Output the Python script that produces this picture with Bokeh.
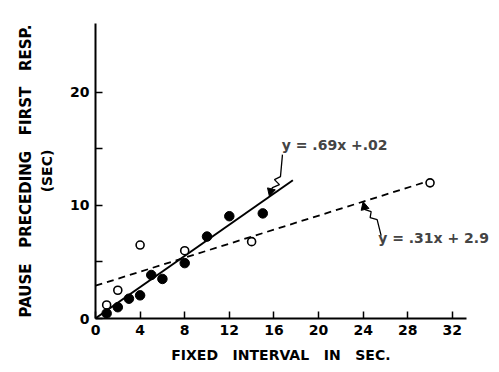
import numpy as np
from bokeh.plotting import figure
from bokeh.models import FixedTicker, Label, Title, Arrow, NormalHead
from bokeh.embed import file_html
from bokeh.resources import INLINE

# data
filled_x = [1, 2, 3, 4, 5, 6, 8, 10, 12, 15]
filled_y = [0.45, 1.0, 1.75, 2.05, 3.85, 3.5, 4.9, 7.25, 9.05, 9.3]
open_x = [1, 2, 4, 8, 14, 30]
open_y = [1.2, 2.5, 6.5, 6.0, 6.8, 12.0]
fit1_slope, fit1_icpt, fit1_xmax = 0.69, 0.02, 17.7
fit2_slope, fit2_icpt, fit2_xmax = 0.31, 2.9, 29.4
x_ticks = [0, 4, 8, 12, 16, 20, 24, 28, 32]
y_ticks = [0, 5, 10, 15, 20]
y_tick_labels = {0: "0", 5: "", 10: "10", 15: "", 20: "20"}

NB = "\u00a0"
def spaced(s, n=3):
    return (NB * n).join(s.split(" "))

FONT = "DejaVu Sans"
W, H = 498, 366
p = figure(width=W, height=H, output_backend="svg", toolbar_location=None,
           x_range=(0, 35.87), y_range=(0, 26.1),
           min_border_left=95, min_border_right=3, min_border_top=23, min_border_bottom=48)
p.outline_line_color = None
p.grid.grid_line_color = None
p.background_fill_color = "white"

for ax in (p.xaxis[0], p.yaxis[0]):
    ax.axis_line_width = 2
    ax.axis_line_color = "black"
    ax.major_tick_in = 7
    ax.major_tick_out = 0
    ax.major_tick_line_width = 1.5
    ax.minor_tick_line_color = None
    ax.major_label_text_font = FONT
    ax.major_label_text_font_style = "bold"
    ax.major_label_text_font_size = "14px"
    ax.major_label_text_color = "black"

p.xaxis.bounds = (0, 33.3)
p.xaxis.ticker = FixedTicker(ticks=x_ticks)
p.yaxis.ticker = FixedTicker(ticks=y_ticks)
p.yaxis.major_label_overrides = y_tick_labels
p.xaxis.major_label_standoff = 6
p.yaxis.major_label_standoff = 6

p.xaxis.axis_label = spaced("FIXED INTERVAL IN SEC.", 3) + NB * 6
p.xaxis.axis_label_text_font = FONT
p.xaxis.axis_label_text_font_style = "bold"
p.xaxis.axis_label_text_font_size = "14px"
p.xaxis.axis_label_text_color = "black"
p.xaxis.axis_label_standoff = 9

p.yaxis.axis_label = "(SEC)"
p.yaxis.axis_label_text_font = FONT
p.yaxis.axis_label_text_font_style = "bold"
p.yaxis.axis_label_text_font_size = "14px"
p.yaxis.axis_label_text_color = "black"
p.yaxis.axis_label_standoff = 12

t = Title(text=spaced("PAUSE PRECEDING FIRST RESP.", 3), align="center",
          text_font=FONT, text_font_style="bold", text_font_size="15px",
          text_color="black", standoff=4)
p.add_layout(t, "left")

# fit lines
x1 = np.array([0, fit1_xmax])
p.line(x1, fit1_slope * x1 + fit1_icpt, line_color="black", line_width=2)
x2 = np.array([0, fit2_xmax])
p.line(x2, fit2_slope * x2 + fit2_icpt, line_color="black", line_width=1.8, line_dash="7 5")

# points
p.scatter(open_x, open_y, size=8, fill_color="white", line_color="black", line_width=1.6)
p.scatter(filled_x, filled_y, size=9.5, fill_color="black", line_color="black")

# annotations: wavy arrows (pixel offsets converted to data units)
sx = 11.15
sy = 11.3

def wavy(tx, ty, pts):
    xs = [tx + dx / sx for dx, dy in pts]
    ys = [ty - dy / sy for dx, dy in pts]
    return xs, ys

a1x = 15.6
a1y = fit1_slope * a1x + fit1_icpt
path1 = [(13, -42), (11, -20), (5, -17), (10, -12), (3, -9), (1, -4)]
xs, ys = wavy(a1x, a1y, path1)
p.line(xs, ys, line_color="black", line_width=1.3)
p.add_layout(Arrow(end=NormalHead(size=8, fill_color="black", line_color="black"),
                   x_start=xs[-1], y_start=ys[-1], x_end=a1x, y_end=a1y,
                   line_color="black", line_width=1.3))

a2x = 24.0
a2y = fit2_slope * a2x + fit2_icpt
path2 = [(18, 34), (14, 18), (7, 16), (8, 10), (2, 8), (1, 4)]
xs, ys = wavy(a2x, a2y, path2)
p.line(xs, ys, line_color="black", line_width=1.3)
p.add_layout(Arrow(end=NormalHead(size=8, fill_color="black", line_color="black"),
                   x_start=xs[-1], y_start=ys[-1], x_end=a2x, y_end=a2y,
                   line_color="black", line_width=1.3))

p.add_layout(Label(x=a1x + 1.1, y=a1y + 41 / sy + 0.2, text="y = .69x +.02",
                   text_font=FONT, text_font_size="14px", text_font_style="bold",
                   text_baseline="bottom", text_align="left"))
p.add_layout(Label(x=a2x + 1.35, y=a2y - 36 / sy, text="y = .31x + 2.9",
                   text_font=FONT, text_font_size="14px", text_font_style="bold",
                   text_baseline="middle", text_align="left"))

open("out.html", "w").write(file_html(p, INLINE))
